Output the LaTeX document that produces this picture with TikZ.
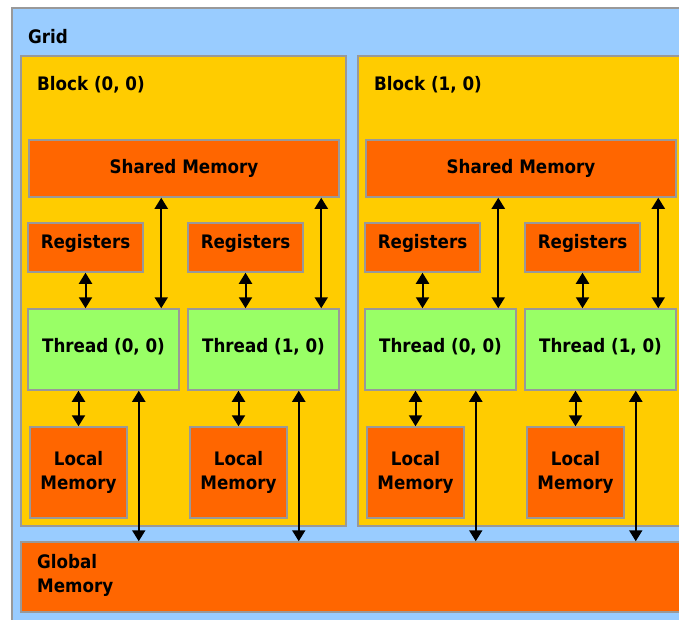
\documentclass[tikz,border=0pt]{standalone}
\usepackage{fontspec}
\setmainfont{DejaVu Sans Condensed}
\usetikzlibrary{arrows.meta}
\definecolor{gridblue}{HTML}{99CCFF}
\definecolor{blockyellow}{HTML}{FFCC00}
\definecolor{memorange}{HTML}{FF6600}
\definecolor{threadgreen}{HTML}{99FF66}
\definecolor{edgegray}{HTML}{999999}
\begin{document}
\begin{tikzpicture}[x=1pt,y=-1pt,
  box/.style={draw=edgegray, line width=1.5pt, inner sep=0pt, align=center,
    font=\fontsize{18.6}{24}\selectfont\bfseries},
  label/.style={inner sep=0pt, font=\fontsize{18.6}{24}\selectfont\bfseries},
  link/.style={{Triangle[length=11pt,width=13pt]}-{Triangle[length=11pt,width=13pt]},
    line width=2pt}]
\useasboundingbox (0,0) rectangle (679,619);
\clip (0,0) rectangle (679,619);

% grid and its label
\node[box, fill=gridblue, minimum width=688pt, minimum height=632pt] (grid) at (356,324) {};
\node[label, anchor=base west] (gridlbl) at (28,43) {Grid};

% global memory
\node[box, fill=memorange, minimum width=669pt, minimum height=70pt] (glob) at (355.5,577) {};
\node[label, anchor=north west, align=left] (globlbl) at (37,554) {Global\\Memory};

\foreach \b in {0,1}{
  \pgfmathsetmacro\xo{337*\b}
  % block frame
  \node[box, fill=blockyellow, minimum width=325pt, minimum height=470pt] (blk\b) at (183.5+\xo,291) {};
  \node[label, anchor=base west] (blklbl\b) at (37+\xo,90) {Block (\b, 0)};
  % shared memory
  \node[box, fill=memorange, minimum width=310pt, minimum height=57pt] (sh\b) at (184+\xo,168.5) {Shared Memory};
  \foreach \t in {0,1}{
    \pgfmathsetmacro\xt{\xo+160*\t}
    \node[box, fill=memorange, minimum width=115pt, minimum height=49pt, text depth=12pt] (reg\b\t) at (85.5+\xt,247.5) {Registers};
    \node[box, fill=threadgreen, minimum width=151pt, minimum height=81pt, text depth=9pt] (thr\b\t) at (103.5+\xt,349.5) {Thread (\t, 0)};
    \node[box, fill=memorange, minimum width=97pt, minimum height=91pt] (loc\b\t) at (78.5+\xt,472.5) {Local\\Memory};
  }
}

% connectors
\foreach \b in {0,1}{
  \foreach \t in {0,1}{
    \draw[link] (reg\b\t.south) -- (reg\b\t.south |- thr\b\t.north);
    \draw[link] (loc\b\t.north) -- (loc\b\t.north |- thr\b\t.south);
    \coordinate (s\b\t) at ([xshift=-18.5pt]thr\b\t.north east);
    \draw[link] (s\b\t) -- (s\b\t |- sh\b.south);
    \coordinate (g\b\t) at ([xshift=-41pt]thr\b\t.south east);
    \draw[link] (g\b\t) -- (g\b\t |- glob.north);
  }
}
\end{tikzpicture}
\end{document}
